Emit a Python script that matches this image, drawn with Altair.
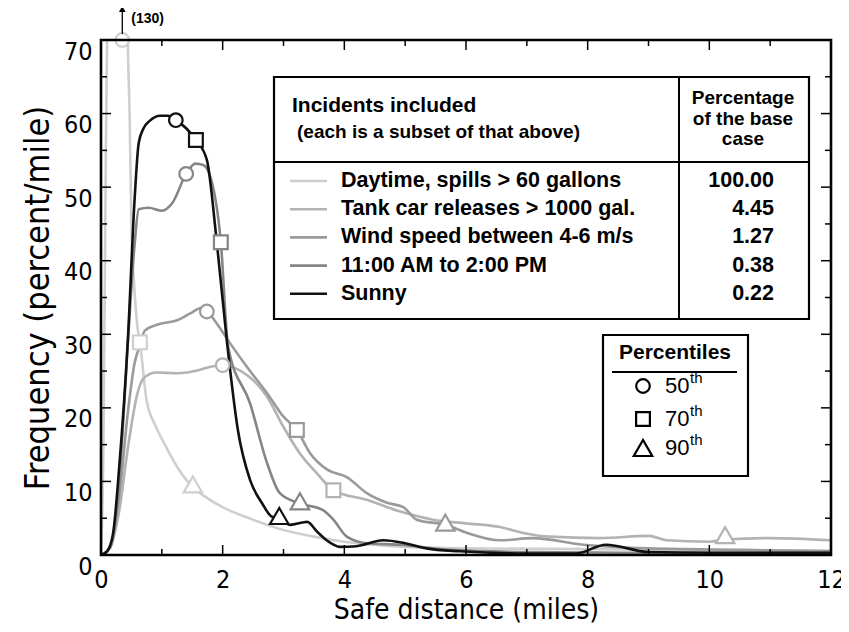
import altair as alt
import pandas as pd

# ---------------- data ----------------
series_names = [
    "Daytime, spills > 60 gallons",
    "Tank car releases > 1000 gal.",
    "Wind speed between 4-6 m/s",
    "11:00 AM to 2:00 PM",
    "Sunny",
]
series_pct = ["100.00", "4.45", "1.27", "0.38", "0.22"]
series_colors = ["#cfcfcf", "#b3b3b3", "#9a9a9a", "#858585", "#111111"]

day_x = [0, 0.04, 0.08, 0.12, 0.2, 0.3, 0.35, 0.4, 0.44, 0.47, 0.5, 0.55, 0.6, 0.64, 0.75, 0.9, 1.05, 1.25, 1.5, 1.7, 2.0, 2.5, 3.0, 3.5, 4.0, 5.0, 6.0, 8.0, 10.0, 12.0]
day_y = [0, 15, 55, 85, 118, 130, 130, 100, 70, 60, 45, 36, 31, 28.9, 21, 17.5, 15, 12, 9.3, 8.0, 6.5, 4.8, 3.4, 2.5, 1.8, 1.1, 0.9, 0.8, 0.7, 0.6]

tank_x = [0, 0.15, 0.3, 0.45, 0.6, 0.7, 0.9, 1.25, 1.6, 1.8, 2.0, 2.28, 2.73, 3.0, 3.27, 3.55, 3.82, 4.37, 4.92, 5.46, 6.0, 6.56, 6.94, 7.38, 8.2, 9.0, 9.3, 10.0, 10.26, 11.0, 12.0]
tank_y = [0, 1, 6, 15, 22, 24, 24.8, 24.7, 25.1, 25.6, 25.8, 25.1, 21.5, 17.4, 13.8, 11.1, 8.8, 7.5, 5.9, 4.8, 4.3, 3.8, 3.0, 2.5, 2.3, 2.6, 2.0, 1.8, 2.1, 2.3, 2.0]

wind_x = [0, 0.15, 0.3, 0.45, 0.55, 0.64, 0.72, 0.92, 1.25, 1.46, 1.66, 1.74, 1.9, 2.12, 2.45, 2.73, 3.0, 3.22, 3.44, 3.72, 4.04, 4.37, 4.7, 4.97, 5.19, 5.66, 6.02, 6.56, 7.1, 7.93, 9.0, 10.5, 12.0]
wind_y = [0, 1, 8, 20, 26, 28.5, 30.5, 31.3, 31.9, 32.8, 33.6, 33.2, 31.5, 28.8, 25, 22, 18.8, 17, 13.8, 11.6, 10.6, 8.4, 7.1, 6.5, 4.8, 4.1, 3.0, 2.0, 2.3, 1.4, 0.9, 0.7, 0.5]

noon_x = [0, 0.15, 0.3, 0.45, 0.55, 0.62, 0.78, 1.0, 1.17, 1.4, 1.55, 1.68, 1.79, 1.97, 2.09, 2.45, 2.73, 2.94, 3.27, 3.65, 3.82, 4.04, 4.37, 4.91, 5.74, 7.0, 9.0, 12.0]
noon_y = [0, 1, 10, 30, 42, 47, 47.2, 46.8, 47.8, 51.8, 53.2, 53, 51.6, 42.5, 28.3, 20.6, 12.5, 8.4, 7.0, 6.1, 4.8, 2.5, 1.6, 1.4, 0.7, 0.4, 0.3, 0.3]

sun_x = [0, 0.1, 0.2, 0.3, 0.44, 0.55, 0.62, 0.7, 0.8, 0.97, 1.1, 1.23, 1.4, 1.56, 1.74, 1.9, 2.07, 2.25, 2.45, 2.65, 2.81, 2.93, 3.11, 3.39, 3.55, 3.71, 3.93, 4.2, 4.64, 5.0, 5.35, 5.9, 7.0, 7.8, 8.3, 9.0, 10.0, 12.0]
sun_y = [0, 0.5, 3, 12, 29, 48, 56, 58, 59, 59.7, 59.7, 59.1, 58, 56.4, 53.7, 42.8, 29, 17, 10.2, 7, 5.2, 5.0, 4.1, 4.5, 3.2, 2.0, 1.1, 1.2, 2.0, 1.6, 0.9, 0.5, 0.2, 0.2, 1.4, 0.4, 0.3, 0.3]

curves_x = [day_x, tank_x, wind_x, noon_x, sun_x]
curves_y = [day_y, tank_y, wind_y, noon_y, sun_y]

# percentile markers (x, y) per series: 50th, 70th, 90th
p50 = [(0.35, 70), (2.0, 25.8), (1.74, 33.1), (1.40, 51.8), (1.23, 59.1)]
p70 = [(0.64, 28.9), (3.82, 8.8), (3.22, 17.0), (1.97, 42.5), (1.56, 56.4)]
p90 = [(1.51, 9.6), (10.26, 2.7), (5.66, 4.4), (3.27, 7.3), (2.93, 5.3)]
pct_labels = ["50", "70", "90"]
pct_shapes = ["circle", "square", "triangle-up"]
pct_sizes = [185, 190, 340]

x_ticks = list(range(0, 13))
y_ticks = list(range(0, 71, 5))

W, H = 730, 515
X0, X1, Y0, Y1 = 0, 12, 0, 70

xs = alt.Scale(domain=[X0, X1], nice=False, zero=False)
ys = alt.Scale(domain=[Y0, Y1], nice=False, zero=False)
cscale = alt.Scale(domain=series_names, range=series_colors)

AX_FONT = "DejaVu Sans Condensed, Liberation Sans Narrow, Liberation Sans, Arial, sans-serif"
BOLD_FONT = "Liberation Sans, Arial, sans-serif"

# ---------------- frame ----------------
one = pd.DataFrame({"a": [0]})
frame = alt.Chart(one).mark_rect(fillOpacity=0, stroke="black", strokeWidth=2.6).encode(
    x=alt.value(0), x2=alt.value(W), y=alt.value(0), y2=alt.value(H))

# ---------------- curves ----------------
layers = []
for name, cx, cy in zip(series_names, curves_x, curves_y):
    df = pd.DataFrame({"x": cx, "y": cy, "s": name})
    layers.append(
        alt.Chart(df).mark_line(clip=True, interpolate="monotone", strokeWidth=2.6).encode(
            x=alt.X("x:Q", scale=xs),
            y=alt.Y("y:Q", scale=ys),
            color=alt.Color("s:N", scale=cscale, legend=None),
            order="x:Q",
        )
    )

# ---------------- markers ----------------
marker_layers = []
for shp, sz, pts in zip(pct_shapes, pct_sizes, [p50, p70, p90]):
    mdf = pd.DataFrame({"x": [p[0] for p in pts], "y": [p[1] for p in pts], "s": series_names})
    marker_layers.append(alt.Chart(mdf).mark_point(
        shape=shp, size=sz, filled=False, fill="white", fillOpacity=1, strokeWidth=2.2, opacity=1, clip=False
    ).encode(
        x=alt.X("x:Q", scale=xs),
        y=alt.Y("y:Q", scale=ys),
        color=alt.Color("s:N", scale=cscale, legend=None),
    ))

# ---------------- axes (labels only) and inward ticks ----------------
axes = alt.Chart(pd.DataFrame({"x": [0], "y": [0]})).mark_point(opacity=0).encode(
    x=alt.X("x:Q", scale=xs, title="Safe distance (miles)",
            axis=alt.Axis(values=list(range(0, 13, 2)), format="d", grid=False, domain=False, ticks=False,
                          labelFontSize=25, labelPadding=12, labelFont=AX_FONT, labelColor="black",
                          titleFont=AX_FONT, titleFontSize=28, titleFontWeight="normal", titlePadding=4,
                          titleColor="black", labelFlush=False)),
    y=alt.Y("y:Q", scale=ys, title="Frequency (percent/mile)",
            axis=alt.Axis(values=list(range(0, 71, 10)), format="d", grid=False, domain=False, ticks=False,
                          labelFontSize=25, labelPadding=9, labelFont=AX_FONT, labelColor="black",
                          labelOffset=11, titleFont=AX_FONT, titleFontSize=34, titleFontWeight="normal",
                          titlePadding=8, titleColor="black", labelFlush=False)),
)

xt = pd.DataFrame({"x": x_ticks, "len": [10 if v % 2 == 0 else 6 for v in x_ticks]})
yt = pd.DataFrame({"y": y_ticks, "len": [10 if v % 10 == 0 else 6 for v in y_ticks]})
tick_layers = []
for t in [10, 6]:
    xsub = xt[xt["len"] == t]
    ysub = yt[yt["len"] == t]
    tick_layers.append(alt.Chart(xsub).mark_rule(color="black", strokeWidth=1.5).encode(
        x=alt.X("x:Q", scale=xs), y=alt.value(H), y2=alt.value(H - t)))
    tick_layers.append(alt.Chart(xsub).mark_rule(color="black", strokeWidth=1.5).encode(
        x=alt.X("x:Q", scale=xs), y=alt.value(0), y2=alt.value(t)))
    tick_layers.append(alt.Chart(ysub).mark_rule(color="black", strokeWidth=1.5).encode(
        y=alt.Y("y:Q", scale=ys), x=alt.value(0), x2=alt.value(t)))
    tick_layers.append(alt.Chart(ysub).mark_rule(color="black", strokeWidth=1.5).encode(
        y=alt.Y("y:Q", scale=ys), x=alt.value(W), x2=alt.value(W - t)))

# ---------------- arrow + (130) ----------------
peak_df = pd.DataFrame({"x": [0.35], "label": ["(130)"]})
arrow_line = alt.Chart(peak_df).mark_rule(color="black", strokeWidth=1.3, clip=False).encode(
    x=alt.X("x:Q", scale=xs), y=alt.value(-31), y2=alt.value(-6))
arrow_head = alt.Chart(peak_df).mark_point(shape="triangle-up", filled=True, color="black", size=45,
                                           opacity=1, clip=False).encode(
    x=alt.X("x:Q", scale=xs), y=alt.value(-31))
arrow_text = alt.Chart(peak_df).mark_text(align="left", baseline="middle", dx=9, fontSize=14,
                                          fontWeight="bold", font=BOLD_FONT, clip=False).encode(
    x=alt.X("x:Q", scale=xs), y=alt.value(-21), text="label:N")

# ---------------- table legend ----------------
TB_L, TB_R, TB_T, TB_B = 173, 708, 37, 279
TB_DIV, TB_H = 578, 122
tbl = [
    alt.Chart(one).mark_rect(fill="white", stroke="black", strokeWidth=2.2).encode(
        x=alt.value(TB_L), x2=alt.value(TB_R), y=alt.value(TB_T), y2=alt.value(TB_B)),
    alt.Chart(one).mark_rule(color="black", strokeWidth=2).encode(
        x=alt.value(TB_DIV), y=alt.value(TB_T), y2=alt.value(TB_B)),
    alt.Chart(one).mark_rule(color="black", strokeWidth=2).encode(
        x=alt.value(TB_L), x2=alt.value(TB_R), y=alt.value(TB_H)),
]
hdr = pd.DataFrame({
    "t": ["Incidents included", "(each is a subset of that above)", "Percentage", "of the base", "case"],
    "x": [191, 196, 642, 642, 642],
    "y": [66, 92, 58, 79, 99],
    "al": ["left", "left", "center", "center", "center"],
    "fs": [21, 19, 19, 19, 19],
})
for _, r in hdr.iterrows():
    tbl.append(alt.Chart(pd.DataFrame({"t": [r["t"]]})).mark_text(
        align=r["al"], baseline="middle", fontSize=int(r["fs"]), fontWeight="bold", font=BOLD_FONT,
        color="black").encode(x=alt.value(int(r["x"])), y=alt.value(int(r["y"])), text="t:N"))

row_y0, row_dy = 141, 28.2
rows = pd.DataFrame({
    "s": series_names,
    "pct": series_pct,
    "ry": [row_y0 + i * row_dy for i in range(5)],
})
tbl.append(alt.Chart(rows).mark_rule(strokeWidth=2.6).encode(
    x=alt.value(189), x2=alt.value(226), y=alt.Y("ry:Q", scale=None),
    color=alt.Color("s:N", scale=cscale, legend=None)))
tbl.append(alt.Chart(rows).mark_text(align="left", baseline="middle", fontSize=21.5, fontWeight="bold",
                                     font=BOLD_FONT, color="black").encode(
    x=alt.value(240), y=alt.Y("ry:Q", scale=None), text="s:N"))
tbl.append(alt.Chart(rows).mark_text(align="right", baseline="middle", fontSize=21.5, fontWeight="bold",
                                     font=BOLD_FONT, color="black").encode(
    x=alt.value(673), y=alt.Y("ry:Q", scale=None), text="pct:N"))

# ---------------- percentile legend ----------------
PB_L, PB_R, PB_T, PB_B = 502, 647, 295, 436
pleg = [
    alt.Chart(one).mark_rect(fill="white", stroke="black", strokeWidth=2.2).encode(
        x=alt.value(PB_L), x2=alt.value(PB_R), y=alt.value(PB_T), y2=alt.value(PB_B)),
    alt.Chart(pd.DataFrame({"t": ["Percentiles"]})).mark_text(
        align="center", baseline="middle", fontSize=21, fontWeight="bold", font=BOLD_FONT, color="black"
    ).encode(x=alt.value(574), y=alt.value(313), text="t:N"),
    alt.Chart(one).mark_rule(color="black", strokeWidth=2).encode(
        x=alt.value(511), x2=alt.value(636), y=alt.value(332)),
]
prow_y = [346, 379, 408]
for shp, sz, lab, ry in zip(pct_shapes, pct_sizes, pct_labels, prow_y):
    pdf = pd.DataFrame({"lab": [lab], "ry": [ry]})
    pleg.append(alt.Chart(pdf).mark_point(shape=shp, size=sz, filled=False, fill="white", fillOpacity=1,
                                          color="black", strokeWidth=2.2, opacity=1).encode(
        x=alt.value(542), y=alt.Y("ry:Q", scale=None)))
    pleg.append(alt.Chart(pdf).mark_text(align="left", baseline="middle", fontSize=22, font=BOLD_FONT,
                                         color="black").encode(
        x=alt.value(564), y=alt.Y("ry:Q", scale=None), text="lab:N"))
    pleg.append(alt.Chart(pdf).mark_text(align="left", baseline="middle", fontSize=15, font=BOLD_FONT,
                                         color="black", dy=-8).encode(
        x=alt.value(589), y=alt.Y("ry:Q", scale=None), text=alt.value("th")))

chart = alt.layer(
    axes, *tbl, *pleg, *layers, *marker_layers, frame, *tick_layers, arrow_line, arrow_head, arrow_text
).properties(
    width=W, height=H,
    autosize=alt.AutoSizeParams(type="none"),
    padding={"left": 93, "top": 32, "right": 10, "bottom": 70},
).configure_view(
    strokeWidth=0
).configure(background="white")

chart.save("out.html", embed_options={"renderer": "svg", "actions": False})
